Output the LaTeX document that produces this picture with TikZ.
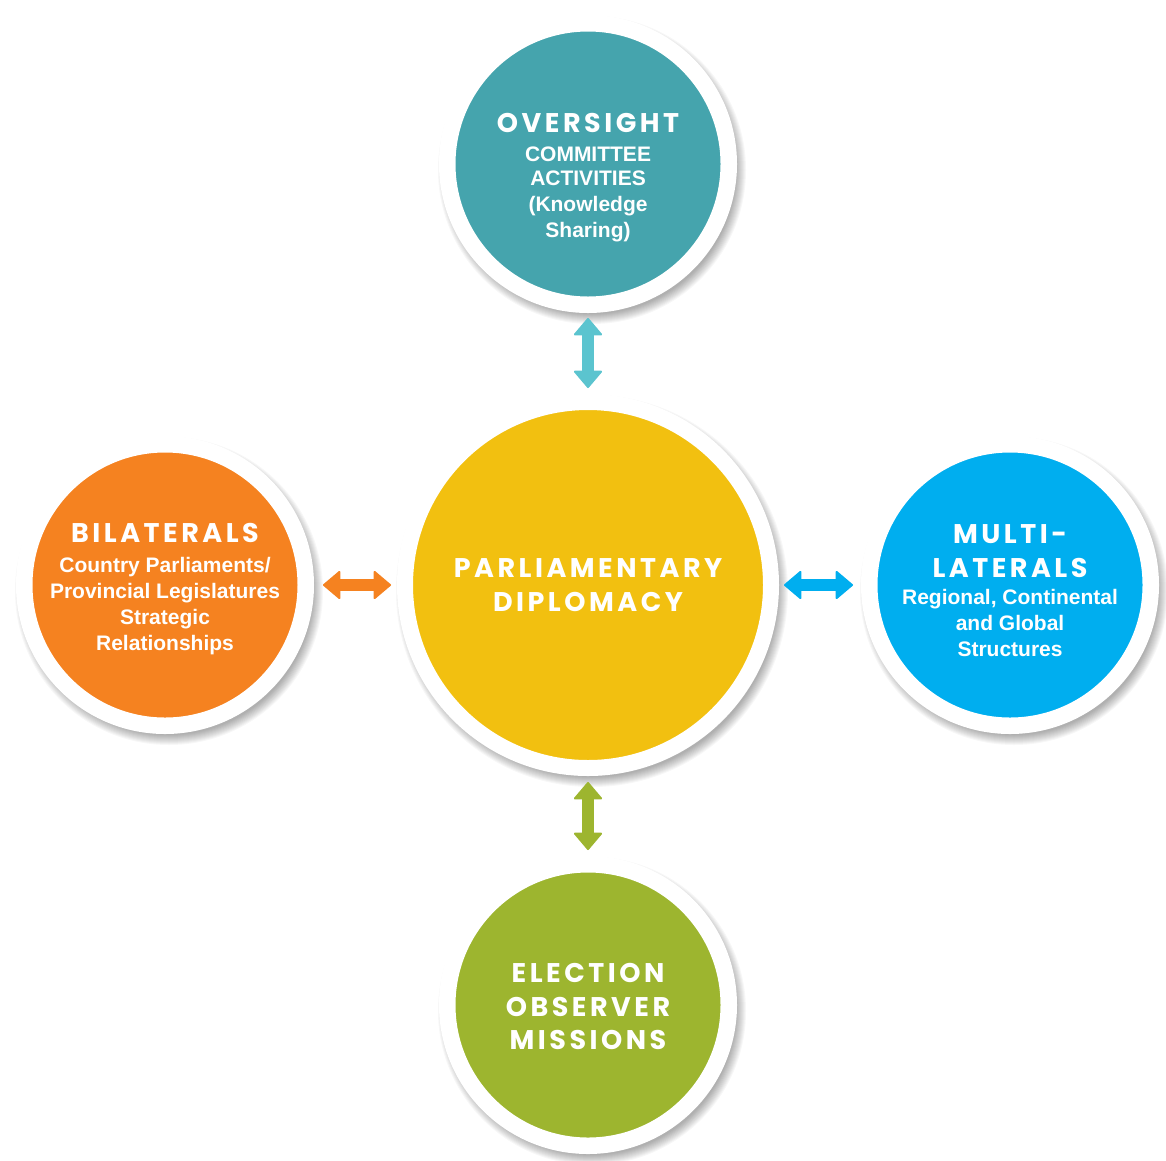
\documentclass[tikz,border=0pt]{standalone}
\usepackage{fontspec}
\newfontfamily\headfont{Poppins}[LetterSpace=13]
\newfontfamily\subfont{Liberation Sans}
\usetikzlibrary{arrows.meta}
\definecolor{cteal}{HTML}{45A4AD}
\definecolor{cyellow}{HTML}{F2C010}
\definecolor{corange}{HTML}{F58220}
\definecolor{cblue}{HTML}{00AEEF}
\definecolor{cgreen}{HTML}{9DB52F}
\definecolor{arrteal}{HTML}{5BC4CF}
\newcommand\myshadow[3]{%
  \foreach \k in {0,...,10} {\fill[black,opacity=0.032] (#1+4,#2+6) circle[radius={(#3+\k-5)*1pt}];}%
}
\begin{document}
\begin{tikzpicture}[x=1pt,y=-1pt,
  ring/.style={circle, draw=white, line width=16.5pt, inner sep=0pt, minimum size=281.5pt},
  bigring/.style={circle, draw=white, line width=16pt, inner sep=0pt, minimum size=366pt},
  hd/.style={anchor=base, inner sep=0pt, text=white, font=\headfont\bfseries\fontsize{27}{30}\selectfont},
  sb/.style={anchor=base, inner sep=0pt, text=white, font=\subfont\bfseries\fontsize{21}{25}\selectfont},
  dbl/.style={line width=12pt, {Triangle[width=30pt,length=18pt,line width=2pt,round]}-{Triangle[width=30pt,length=18pt,line width=2pt,round]}, shorten <=6pt, shorten >=6pt}
]
\fill[white] (0,0) rectangle (1166,1160);
\useasboundingbox (0,0) rectangle (1166,1160);
% shadows
\myshadow{588}{164}{149}
\myshadow{165}{585}{149}
\myshadow{1010}{585}{149}
\myshadow{588}{1005}{149}
\myshadow{588}{585}{191}
% circles
\node[ring, fill=cteal] (over) at (588,164) {};
\node[ring, fill=corange] (bila) at (165,585) {};
\node[ring, fill=cblue] (multi) at (1010,585) {};
\node[ring, fill=cgreen] (elec) at (588,1005) {};
\node[bigring, fill=cyellow] (parl) at (588,585) {};
% connectors
\draw[dbl, arrteal, shorten <=5pt] (over) -- (parl);
\draw[dbl, corange, shorten <=9pt] (bila) -- (parl);
\draw[dbl, cblue, shorten <=5pt, shorten >=8pt] (parl) -- (multi);
\draw[dbl, cgreen] (parl) -- (elec);
% texts
\node[hd] (oh) at (588,132) {OVERSIGHT};
\node[sb] (o1) at (588,161) {COMMITTEE};
\node[sb] (o2) at (588,185) {ACTIVITIES};
\node[sb] (o3) at (588,211) {(Knowledge};
\node[sb] (o4) at (588,237) {Sharing)};
\node[hd] (bh) at (165,542) {BILATERALS};
\node[sb] (b1) at (165,572) {Country Parliaments/};
\node[sb] (b2) at (165,598) {Provincial Legislatures};
\node[sb] (b3) at (165,624) {Strategic};
\node[sb] (b4) at (165,650) {Relationships};
\node[hd] (mh1) at (1010,543) {MULTI-};
\node[hd] (mh2) at (1010,577) {LATERALS};
\node[sb] (m1) at (1010,604) {Regional, Continental};
\node[sb] (m2) at (1010,630) {and Global};
\node[sb] (m3) at (1010,656) {Structures};
\node[hd] (p1) at (588,577) {PARLIAMENTARY};
\node[hd] (p2) at (588,611) {DIPLOMACY};
\node[hd] (e1) at (588,982) {ELECTION};
\node[hd] (e2) at (588,1016) {OBSERVER};
\node[hd] (e3) at (588,1049) {MISSIONS};
\end{tikzpicture}
\end{document}
